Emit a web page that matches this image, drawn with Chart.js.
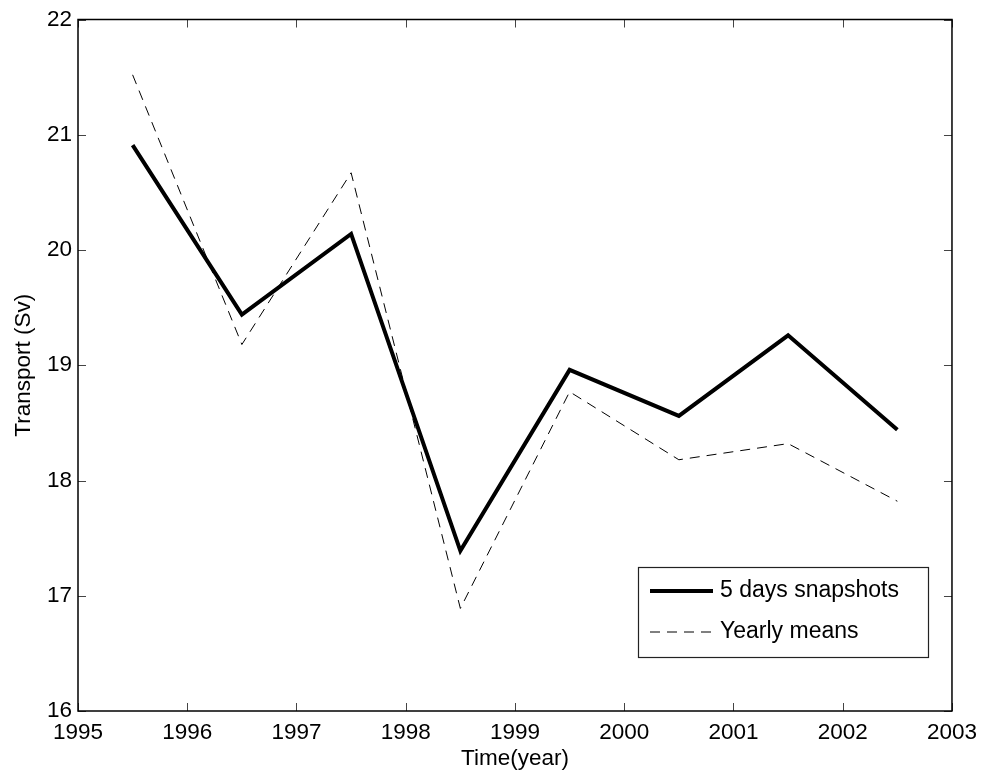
<!DOCTYPE html>
<html>
<head>
<meta charset="utf-8">
<title>Transport</title>
<script src="https://cdn.jsdelivr.net/npm/chart.js@4"></script>
<style>
  html, body { margin: 0; padding: 0; background: #fff; }
</style>
</head>
<body>
<canvas id="transportChart" width="985" height="776"></canvas>
<script>
// data
const years = [1995.5, 1996.5, 1997.5, 1998.5, 1999.5, 2000.5, 2001.5, 2002.5];
const snapshotData = [20.91, 19.44, 20.14, 17.39, 18.96, 18.56, 19.26, 18.44];
const yearlyData = [21.52, 19.18, 20.67, 16.89, 18.77, 18.18, 18.32, 17.82];
const xTicks = [1995, 1996, 1997, 1998, 1999, 2000, 2001, 2002, 2003];
const yTicks = [16, 17, 18, 19, 20, 21, 22];

const FONT = '"Liberation Sans", Arial, Helvetica, sans-serif';

function toPoints(xs, ys) {
    return xs.map((x, i) => ({ x: x, y: ys[i] }));
}

// box, inward ticks on all four sides, and the legend box (matlab style)
const matlabAxes = {
    id: 'matlabAxes',
    afterDraw(chart) {
        const c = chart.ctx;
        const a = chart.chartArea;
        const xs = chart.scales.x;
        const ys = chart.scales.y;
        const tl = 8;
        c.save();
        c.strokeStyle = '#444';
        c.lineWidth = 1;
        c.beginPath();
        xTicks.forEach(v => {
            const px = Math.round(xs.getPixelForValue(v)) + 0.5;
            c.moveTo(px, a.bottom); c.lineTo(px, a.bottom - tl);
            c.moveTo(px, a.top); c.lineTo(px, a.top + tl);
        });
        yTicks.forEach(v => {
            const py = Math.round(ys.getPixelForValue(v)) + 0.5;
            c.moveTo(a.left, py); c.lineTo(a.left + tl, py);
            c.moveTo(a.right, py); c.lineTo(a.right - tl, py);
        });
        c.stroke();

        c.strokeStyle = '#000';
        c.lineWidth = 1.5;
        c.strokeRect(a.left, a.top, a.right - a.left, a.bottom - a.top);

        // legend
        const lx = 638, ly = 567, lw = 290, lh = 90;
        c.fillStyle = '#fff';
        c.fillRect(lx, ly, lw, lh);
        c.lineWidth = 1.2;
        c.strokeStyle = '#222';
        c.strokeRect(lx + 0.5, ly + 0.5, lw, lh);
        c.font = '23px ' + FONT;
        c.fillStyle = '#000';
        c.textBaseline = 'middle';
        const rows = [591, 632];
        chart.data.datasets.forEach((ds, i) => {
            c.beginPath();
            c.strokeStyle = ds.borderColor;
            c.lineWidth = ds.borderWidth;
            c.setLineDash(ds.borderDash || []);
            c.moveTo(650, rows[i]);
            c.lineTo(713, rows[i]);
            c.stroke();
            c.setLineDash([]);
            c.fillText(ds.label, 720, rows[i]);
        });
        c.restore();
    }
};

const ctx = document.getElementById('transportChart').getContext('2d');
const transportChart = new Chart(ctx, {
    type: 'line',
    data: {
        datasets: [
            {
                label: '5 days snapshots',
                data: toPoints(years, snapshotData),
                borderColor: '#000',
                borderWidth: 4,
                pointRadius: 0,
                fill: false,
                tension: 0
            },
            {
                label: 'Yearly means',
                data: toPoints(years, yearlyData),
                borderColor: '#000',
                borderWidth: 1,
                borderDash: [10, 7],
                pointRadius: 0,
                fill: false,
                tension: 0
            }
        ]
    },
    options: {
        responsive: false,
        animation: false,
        devicePixelRatio: 1,
        layout: { padding: { top: 19, right: 30, left: 0, bottom: 0 } },
        plugins: {
            legend: { display: false },
            tooltip: { enabled: false }
        },
        scales: {
            x: {
                type: 'linear',
                min: 1995,
                max: 2003,
                afterBuildTicks: s => { s.ticks = xTicks.map(v => ({ value: v })); },
                afterFit: s => { s.height = 65; },
                grid: { display: false, drawTicks: false },
                border: { display: false },
                ticks: {
                    color: '#000',
                    font: { family: FONT, size: 22.5 },
                    padding: 8,
                    maxRotation: 0,
                    autoSkip: false,
                    callback: v => String(v)
                },
                title: {
                    display: true,
                    text: 'Time(year)',
                    color: '#000',
                    font: { family: FONT, size: 22.5 },
                    padding: { top: 0, bottom: 4 }
                }
            },
            y: {
                min: 16,
                max: 22,
                afterBuildTicks: s => { s.ticks = yTicks.map(v => ({ value: v })); },
                afterFit: s => { s.width = 78; },
                grid: { display: false, drawTicks: false },
                border: { display: false },
                ticks: {
                    color: '#000',
                    font: { family: FONT, size: 22.5 },
                    padding: 6,
                    autoSkip: false,
                    callback: v => String(v)
                },
                title: {
                    display: true,
                    text: 'Transport (Sv)',
                    color: '#000',
                    font: { family: FONT, size: 22.5 },
                    padding: { top: 10, bottom: 0 }
                }
            }
        }
    },
    plugins: [matlabAxes]
});
</script>
</body>
</html>
